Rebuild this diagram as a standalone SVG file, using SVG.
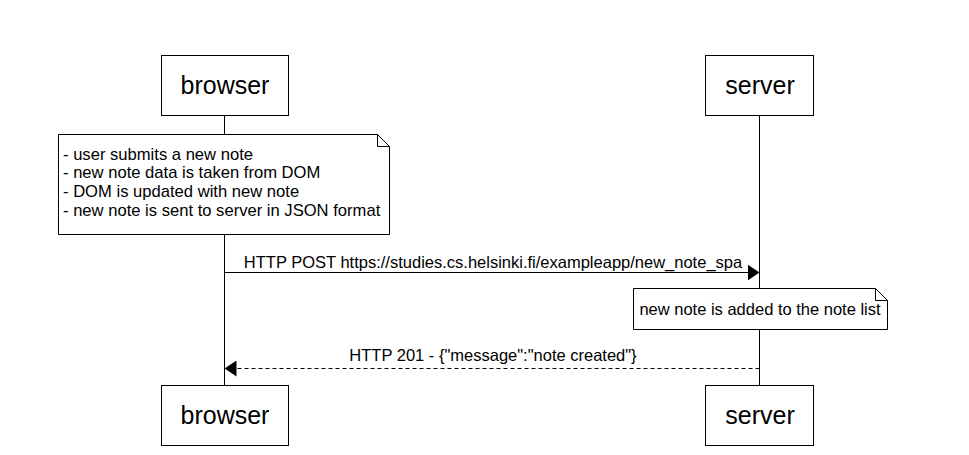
<svg xmlns="http://www.w3.org/2000/svg" width="969" height="455" viewBox="0 0 969 455">
<style>
.box{fill:#fff;stroke:#000;stroke-width:1}
.lbl{font-family:"Liberation Sans",Arial,sans-serif;font-size:25px;fill:#000;text-anchor:middle}
.txt{font-family:"Liberation Sans",Arial,sans-serif;font-size:16.5px;fill:#000}
.n1{font-size:16.6px}
.line{stroke:#000;stroke-width:1;fill:none}
</style>
<defs>
<marker id="ah" viewBox="0 0 10 10" refX="10" refY="5" markerWidth="12" markerHeight="16" markerUnits="userSpaceOnUse" orient="auto-start-reverse" preserveAspectRatio="none">
<path d="M0,0 L10,5 L0,10 Z" fill="#000"/>
</marker>
</defs>
<rect width="969" height="455" fill="#fff"/>
<g id="lifelines">
<line class="line" x1="224.5" y1="115" x2="224.5" y2="385"/>
<line class="line" x1="759.5" y1="116" x2="759.5" y2="385"/>
</g>
<g id="browser-top">
<rect class="box" x="161.5" y="55.5" width="127" height="60"/>
<text class="lbl" x="225" y="94">browser</text>
</g>
<g id="server-top">
<rect class="box" x="705.5" y="55.5" width="108" height="60"/>
<text class="lbl" x="760" y="94">server</text>
</g>
<g id="note1">
<path class="box" d="M58.5,134.5 H377.5 L389.5,146.5 V234.5 H58.5 Z"/>
<path class="line" d="M377.5,134.5 V146.5 H389.5"/>
<text class="txt n1" x="63" y="160">- user submits a new note</text>
<text class="txt n1" x="63" y="178">- new note data is taken from DOM</text>
<text class="txt n1" x="63" y="197">- DOM is updated with new note</text>
<text class="txt n1" x="63" y="216">- new note is sent to server in JSON format</text>
</g>
<g id="note2">
<path class="box" d="M633.5,288.5 H875.5 L887.5,300.5 V329.5 H633.5 Z"/>
<path class="line" d="M875.5,288.5 V300.5 H887.5"/>
<text class="txt" x="760" y="315" text-anchor="middle">new note is added to the note list</text>
</g>
<g id="connectors">
<line class="line" x1="224.5" y1="272.5" x2="759.5" y2="272.5" marker-end="url(#ah)"/>
<text class="txt" x="493" y="268" text-anchor="middle">HTTP POST https://studies.cs.helsinki.fi/exampleapp/new_note_spa</text>
<line class="line" x1="759.5" y1="368.5" x2="224.5" y2="368.5" stroke-dasharray="4,3" marker-end="url(#ah)"/>
<text class="txt" x="493" y="361" text-anchor="middle">HTTP 201 - {"message":"note created"}</text>
</g>
<g id="browser-bottom">
<rect class="box" x="161.5" y="385.5" width="127" height="60"/>
<text class="lbl" x="225" y="424">browser</text>
</g>
<g id="server-bottom">
<rect class="box" x="705.5" y="385.5" width="108" height="60"/>
<text class="lbl" x="760" y="424">server</text>
</g>
</svg>
